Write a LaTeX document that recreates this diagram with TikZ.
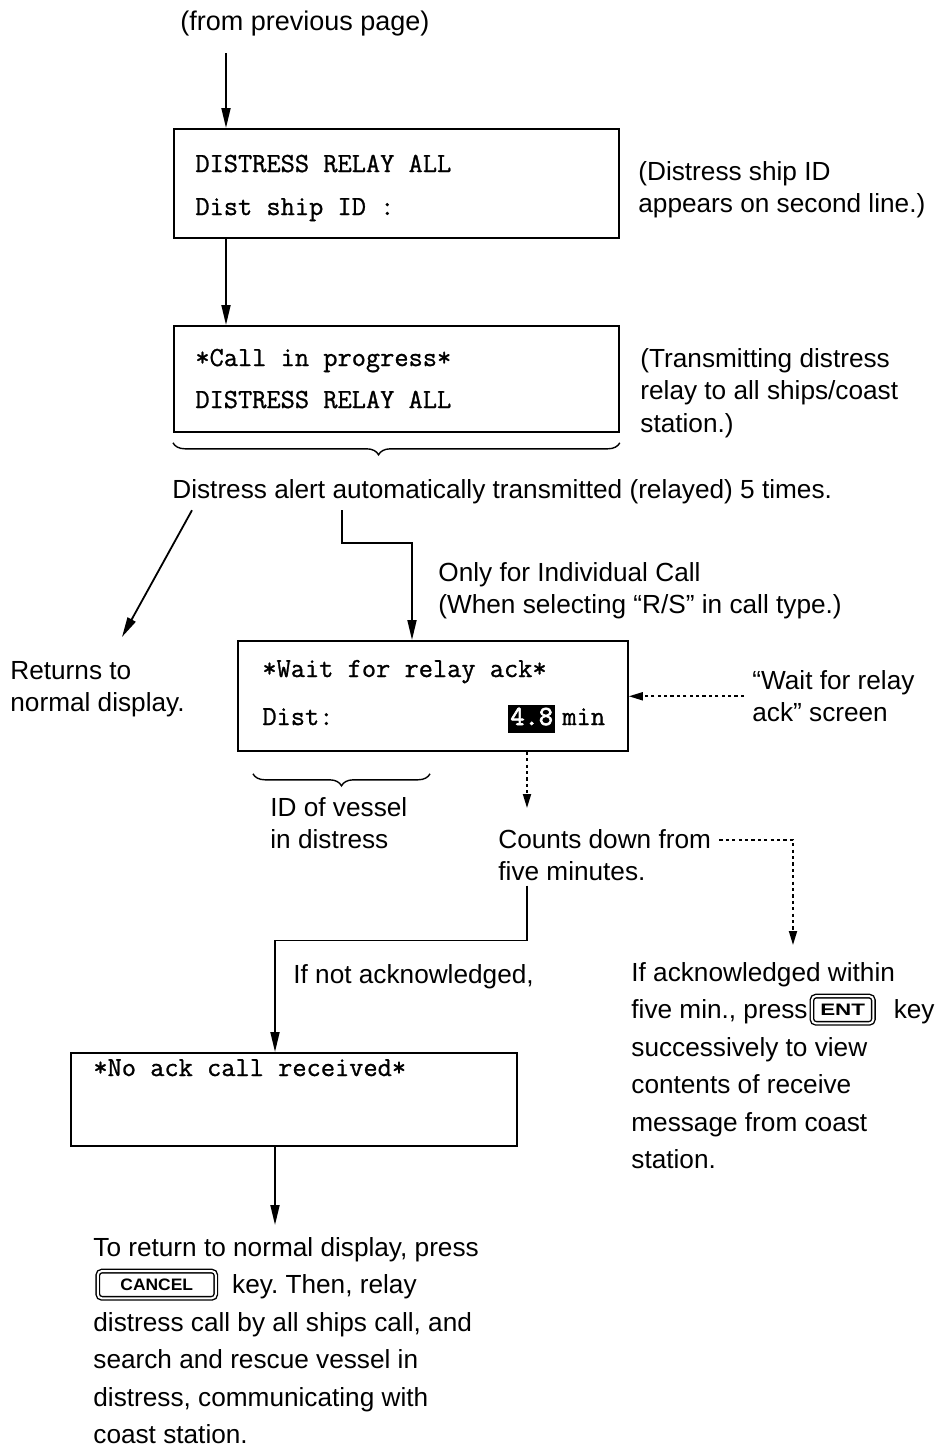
\documentclass[tikz,border=0pt]{standalone}
\usepackage{fontspec}
\setmainfont{Liberation Sans}
\setmonofont{Latin Modern Mono}[FakeBold=1]
\newfontfamily\boldmono{Latin Modern Mono}[FakeBold=2.5]
\usetikzlibrary{arrows.meta,decorations.pathreplacing,calc}
\newcommand\kcap[3]{\tikz[baseline={([yshift=-4.6pt]kk.center)}]\node[draw,line width=0.7pt,double,double distance=1pt,rounded corners=2pt,inner sep=0pt,anchor=center,minimum width=#1,minimum height=13.6pt,font=\fontsize{8.3}{9}\selectfont\bfseries](kk){\scalebox{#3}[1]{#2}};}
\begin{document}
\frenchspacing
\begin{tikzpicture}[x=0.5pt,y=-0.5pt,
  txt/.style={anchor=north west,inner sep=0pt,align=left,font=\fontsize{13.1}{16.25}\selectfont},
  txtw/.style={txt,font=\fontsize{13.1}{18.75}\selectfont},
  scr/.style={draw,line width=0.9pt,anchor=north west,inner sep=0pt},
  mono/.style={anchor=base west,inner sep=0pt,font=\fontsize{13.8}{16}\ttfamily},
  arr/.style={line width=0.9pt,-{Triangle[length=10pt,width=4.5pt]}},
  darr/.style={line width=0.9pt,dash pattern=on 1.6pt off 1.6pt,-{Triangle[length=7pt,width=4pt]}},
  brc/.style={decorate,decoration={brace,mirror,amplitude=6pt,aspect=0.46},line width=0.7pt},
  brc2/.style={decorate,decoration={brace,mirror,amplitude=6pt},line width=0.7pt}]

\useasboundingbox (0,0) rectangle (943,1448);

\node[txt,font=\fontsize{13.5}{16.25}\selectfont] (from) at (180,11) {(from previous page)};
\coordinate (top) at (226,53);
\node[scr,minimum width=222.5pt,minimum height=54.5pt] (b1) at (173,128) {};
\node[mono] (b1l1) at (195,172) {DISTRESS RELAY ALL};
\node[mono] (b1l2) at (195,215) {Dist ship ID :};
\node[txt] (n1) at (638,161) {(Distress ship ID\\appears on second line.)};

\node[scr,minimum width=222.5pt,minimum height=53pt] (b2) at (173,325) {};
\node[mono] (b2l1) at (195,366) {*Call in progress*};
\node[mono] (b2l2) at (195,408) {DISTRESS RELAY ALL};
\node[txt] (n2) at (640,348) {(Transmitting distress\\relay to all ships/coast\\station.)};

\draw[arr] (top) -- (b1.north -| top);
\draw[arr] (b1.south -| top) -- (b2.north -| top);
\draw[brc] ([yshift=-5pt]b2.south west) -- ([yshift=-5pt]b2.south east);

\node[txt] (da) at (172,479) {Distress alert automatically transmitted (relayed) 5 times.};

\node[scr,minimum width=195pt,minimum height=55pt] (b3) at (237,640) {};
\node[mono] (b3l1) at (262,677) {*Wait for relay ack*};
\node[mono] (b3l2) at (262,725) {Dist:};
\node[mono,font=\fontsize{13.8}{16}\boldmono,fill=black,text=white,inner xsep=1pt,inner ysep=1pt,text height=9pt,text depth=3pt] (hl) at (508,725) {4.8};
\node[mono] (b3l3) at (562,725) {min};

\node[txt] (ol) at (438,562) {Only for Individual Call\\(When selecting “R/S” in call type.)};
\node[txt] (ret) at (10,661) {Returns to\\normal display.};
\node[txt] (wl) at (752,670) {“Wait for relay\\ack” screen};

\node[txt] (idv) at (270,797) {ID of vessel\\in distress};
\node[txt] (cd) at (498,829) {Counts down from\\five minutes.};
\node[txt] (ina) at (293,964) {If not acknowledged,};
\node[txtw] (ack) at (631,962) {If acknowledged within\\five min., press\hspace{1pt}\kcap{30.7pt}{ENT}{1.35}\hspace{9pt}key\\successively to view\\contents of receive\\message from coast\\station.};

\node[scr,minimum width=223pt,minimum height=46.5pt] (b4) at (70,1052) {};
\node[mono] (b4l1) at (93,1076) {*No ack call received*};

\node[txtw] (tr) at (93,1237) {To return to normal display, press\\\hspace{1pt}\kcap{59pt}{CANCEL}{1.05}\hspace{7pt}key. Then, relay\\distress call by all ships call, and\\search and rescue vessel in\\distress, communicating with\\coast station.};

\draw[arr] ([xshift=10pt,yshift=-3pt]da.south west) -- ([xshift=56pt,yshift=12pt]ret.north west);
\draw[arr] ([xshift=85pt,yshift=-3pt]da.south west) -- ++(0,33) -| ([xshift=87.5pt]b3.north west);
\draw[darr] ([xshift=-4pt]wl.west) -- (b3.east |- wl.west);
\draw[brc2] ([xshift=8pt,yshift=-11pt]b3.south west) -- ([xshift=96.5pt,yshift=-11pt]b3.south west);
\draw[darr] ([xshift=145pt]b3.south west) -- ([xshift=14.5pt,yshift=10.5pt]cd.north west);
\draw[darr] ([xshift=4pt,yshift=-5.5pt]cd.north east) -| ([xshift=81pt,yshift=8.5pt]ack.north west);
\draw[arr] ([xshift=14.5pt,yshift=-2pt]cd.south west) -- ++(0,55) -| ([xshift=102.5pt]b4.north west);
\draw[arr] ([xshift=102.5pt]b4.south west) -- ([xshift=91pt,yshift=6pt]tr.north west);
\end{tikzpicture}
\end{document}
